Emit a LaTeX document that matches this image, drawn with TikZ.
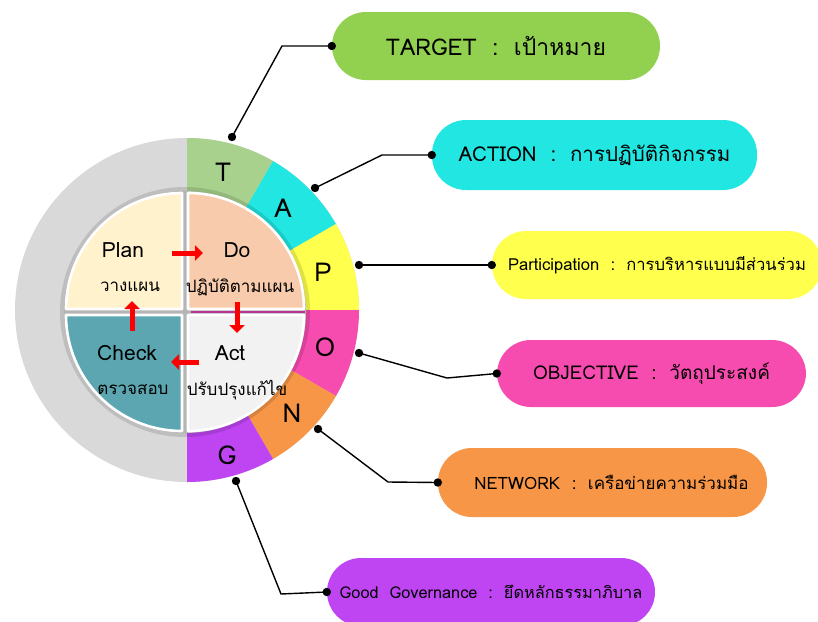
\documentclass[tikz,border=0pt]{standalone}
\usepackage{fontspec}
\setmainfont[Script=Thai]{Loma}
\usetikzlibrary{arrows.meta}

\definecolor{ringgray}{HTML}{D9D9D9}
\definecolor{segT}{HTML}{A9D18E}
\definecolor{segA}{HTML}{21E6E1}
\definecolor{segP}{HTML}{FFFF4D}
\definecolor{segO}{HTML}{F64BAF}
\definecolor{segN}{HTML}{F79646}
\definecolor{segG}{HTML}{BF45F2}
\definecolor{pillT}{HTML}{92D050}
\definecolor{planfill}{HTML}{FFF2CC}
\definecolor{dofill}{HTML}{F8CBAD}
\definecolor{checkfill}{HTML}{5BA6B0}
\definecolor{actfill}{HTML}{F2F2F2}
\definecolor{seam}{HTML}{B5B5B5}
\definecolor{seammag}{HTML}{B8338F}

\begin{document}
\begin{tikzpicture}[
    x = 1pt, y = -1pt,
    line join=round,
    pill/.style = {rounded corners=34pt, minimum height=68pt, inner sep=0pt, font=\fontsize{20}{24}\selectfont},
    lead/.style = {line width=1.4pt, black},
    quad/.style = {draw=white, line width=2.6pt},
    ringletter/.style = {font=\fontsize{26}{30}\selectfont},
    pdcaword/.style = {font=\fontsize{21}{24}\selectfont},
    pdcathai/.style = {font=\fontsize{17}{20}\selectfont},
    redarrow/.style = {red, line width=5pt, -{Triangle[width=15pt,length=8pt]}}
]
\clip (0,0) rectangle (818,621);
\useasboundingbox (0,0) rectangle (818,621);

\coordinate (c) at (187,310);
\coordinate (ci) at (185,312);

% outer ring
\fill[ringgray] (c) circle (172);
\foreach \a/\col in {-90/segT, -60/segA, -30/segP, 0/segO, 30/segN, 60/segG}
    \fill[\col] (c) -- ++(\a:172) arc[start angle=\a, delta angle=30, radius=172] -- cycle;

\node[ringletter] (T) at (223,172) {T};
\node[ringletter] (A) at (283,208) {A};
\node[ringletter] (P) at (323,272) {P};
\node[ringletter] (O) at (325,347) {O};
\node[ringletter] (N) at (292,413) {N};
\node[ringletter] (G) at (227,455) {G};

% inner PDCA disc
\fill[black, opacity=0.12] (ci) circle (125);
\fill[seam] (ci) circle (121);
\foreach \sx/\sy/\a/\col in {-1/-1/180/planfill, 1/-1/270/dofill, 1/1/0/actfill, -1/1/90/checkfill}
    \filldraw[quad, fill=\col] ([shift={(3*\sx,3*\sy)}]ci) -- ++(\a:116) arc[start angle=\a, delta angle=90, radius=116] -- cycle;
\draw[seammag, line width=1.6pt] (191,312) -- (305,312);

\node[pdcaword] (plan) at (123,250) {Plan};
\node[pdcathai] (planth) at (130,287) {วางแผน};
\node[pdcaword] (do) at (237,250) {Do};
\node[pdcathai] (doth) at (240,287) {ปฏิบัติตามแผน};
\node[pdcaword] (check) at (127,353) {Check};
\node[pdcathai] (checkth) at (133,390) {ตรวจสอบ};
\node[pdcaword] (act) at (230,353) {Act};
\node[pdcathai] (actth) at (237,390) {ปรับปรุงแก้ไข};

\coordinate (pd1) at (172,253);
\coordinate (pd2) at (203,253);
\coordinate (da1) at (237,302);
\coordinate (da2) at (237,333);
\coordinate (ac1) at (199,362);
\coordinate (ac2) at (171,362);
\coordinate (cp1) at (132,331);
\coordinate (cp2) at (132,301);
\draw[redarrow] (pd1) -- (pd2);
\draw[redarrow] (da1) -- (da2);
\draw[redarrow] (ac1) -- (ac2);
\draw[redarrow] (cp1) -- (cp2);

% labels
\node[pill, fill=pillT, minimum width=328pt, font=\fontsize{23}{27}\selectfont] (pT) at (496,46) {TARGET~~:~~เป้าหมาย};
\node[pill, fill=segA, minimum width=325pt, minimum height=70pt, font=\fontsize{20.5}{24}\selectfont] (pA) at (594.5,155) {ACTION~~:~~การปฏิบัติกิจกรรม};
\node[pill, fill=segP, minimum width=330pt, font=\fontsize{16.6}{20}\selectfont] (pP) at (657,265) {Participation~~:~~การบริหารแบบมีส่วนร่วม};
\node[pill, fill=segO, minimum width=309pt, minimum height=67pt, font=\fontsize{19}{22}\selectfont] (pO) at (651.5,373.5) {OBJECTIVE~~:~~วัตถุประสงค์};
\node[pill, fill=segN, minimum width=329pt, minimum height=69pt, font=\fontsize{17}{20}\selectfont] (pN) at (602.5,482.5) {\hspace{18pt}NETWORK~~:~~เครือข่ายความร่วมมือ};
\node[pill, fill=segG, minimum width=328pt, font=\fontsize{16.3}{19}\selectfont] (pG) at (491,592) {Good~~Governance~~:~~ยึดหลักธรรมาภิบาล};

% leaders
\coordinate (dT) at (232,137);
\coordinate (dA) at (315,188);
\coordinate (dP) at (359,265);
\coordinate (dO) at (359,353);
\coordinate (dN) at (318,429);
\coordinate (dG) at (236,481);
\coordinate (kT) at (282,46);
\coordinate (kA) at (382,155);
\coordinate (kO) at (447,378);
\coordinate (kN) at (388,482);
\coordinate (kG) at (281,594);

\draw[lead] (dT) -- (kT) -- (pT.west);
\draw[lead] (dA) -- (kA) -- (pA.west);
\draw[lead] (dP) -- (pP.west);
\draw[lead] (dO) -- (kO) -- (pO.west);
\draw[lead] (dN) -- (kN) -- (pN.west);
\draw[lead] (dG) -- (kG) -- (pG.west);
\foreach \d in {dT, dA, dP, dO, dN, dG, pT.west, pA.west, pP.west, pO.west, pN.west, pG.west}
    \fill (\d) circle (4.2);

\end{tikzpicture}
\end{document}
